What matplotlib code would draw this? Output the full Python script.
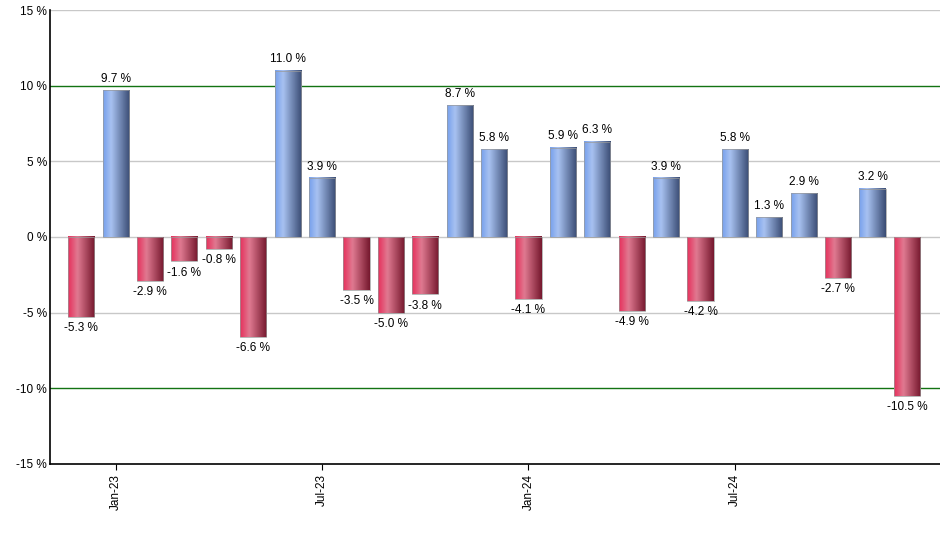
import matplotlib
matplotlib.use("Agg")
import matplotlib.pyplot as plt
from matplotlib.colors import LinearSegmentedColormap
import numpy as np

plt.rcParams['font.family'] = ['Liberation Sans', 'DejaVu Sans']

months = ['Dec-22', 'Jan-23', 'Feb-23', 'Mar-23', 'Apr-23', 'May-23', 'Jun-23', 'Jul-23',
          'Aug-23', 'Sep-23', 'Oct-23', 'Nov-23', 'Dec-23', 'Jan-24', 'Feb-24', 'Mar-24',
          'Apr-24', 'May-24', 'Jun-24', 'Jul-24', 'Aug-24', 'Sep-24', 'Oct-24', 'Nov-24', 'Dec-24']
returns = [-5.3, 9.7, -2.9, -1.6, -0.8, -6.6, 11.0, 3.9, -3.5, -5.0, -3.8, 8.7, 5.8,
           -4.1, 5.9, 6.3, -4.9, 3.9, -4.2, 5.8, 1.3, 2.9, -2.7, 3.2, -10.5]
tick_labels = ['Jan-23', 'Jul-23', 'Jan-24', 'Jul-24']

blue_cmap = LinearSegmentedColormap.from_list(
    'blue', [(0, '#77a0ec'), (0.3, '#a8c2f1'), (1, '#3a4c74')])
red_cmap = LinearSegmentedColormap.from_list(
    'red', [(0, '#e6305c'), (0.35, '#e07a91'), (1, '#76182e')])

fig = plt.figure(figsize=(9.4, 5.5), dpi=100)
ax = fig.add_axes([0.0527, 0.1564, 0.9473, 0.8254])

x = np.arange(len(returns))
width = 0.76
grad = np.linspace(0, 1, 64).reshape(1, -1)

for xi, v in zip(x, returns):
    cmap = blue_cmap if v >= 0 else red_cmap
    ax.imshow(grad, cmap=cmap, aspect='auto', interpolation='bicubic',
              extent=[xi - width / 2, xi + width / 2, 0, v], origin='lower', zorder=3)
    # thin grey outline like the original
    ax.bar(xi, v, width=width, fill=False, edgecolor='#9a9a9a', linewidth=0.5, zorder=3.5)
    if v >= 0:
        ax.text(xi, v + 0.35, f'{v:.1f} %', ha='center', va='bottom', fontsize=8.5, zorder=4)
    else:
        ax.text(xi, v - 0.35, f'{v:.1f} %', ha='center', va='top', fontsize=8.5, zorder=4)

# grid lines
for yv in [-5, 0, 5, 15]:
    ax.axhline(yv, color='#c8c8c8', lw=1, zorder=1)
for yv in [-10, 10]:
    ax.axhline(yv, color='#137313', lw=1, zorder=2)

ax.set_xlim(-0.92, 24.96)
ax.set_ylim(-15, 15)
ax.set_yticks(np.arange(-15, 16, 5))
ax.set_yticklabels([f'{t} %' for t in range(-15, 16, 5)], fontsize=8.5)
ax.tick_params(axis='y', length=0, pad=2)

ax.set_xticks([months.index(t) for t in tick_labels])
ax.set_xticklabels(tick_labels, rotation=90, fontsize=8.5)
ax.tick_params(axis='x', length=4, direction='out', pad=3)

for s in ['top', 'right']:
    ax.spines[s].set_visible(False)
for s in ['left', 'bottom']:
    ax.spines[s].set_linewidth(1.2)
    ax.spines[s].set_zorder(5)

fig.savefig('out.png', dpi=100)
